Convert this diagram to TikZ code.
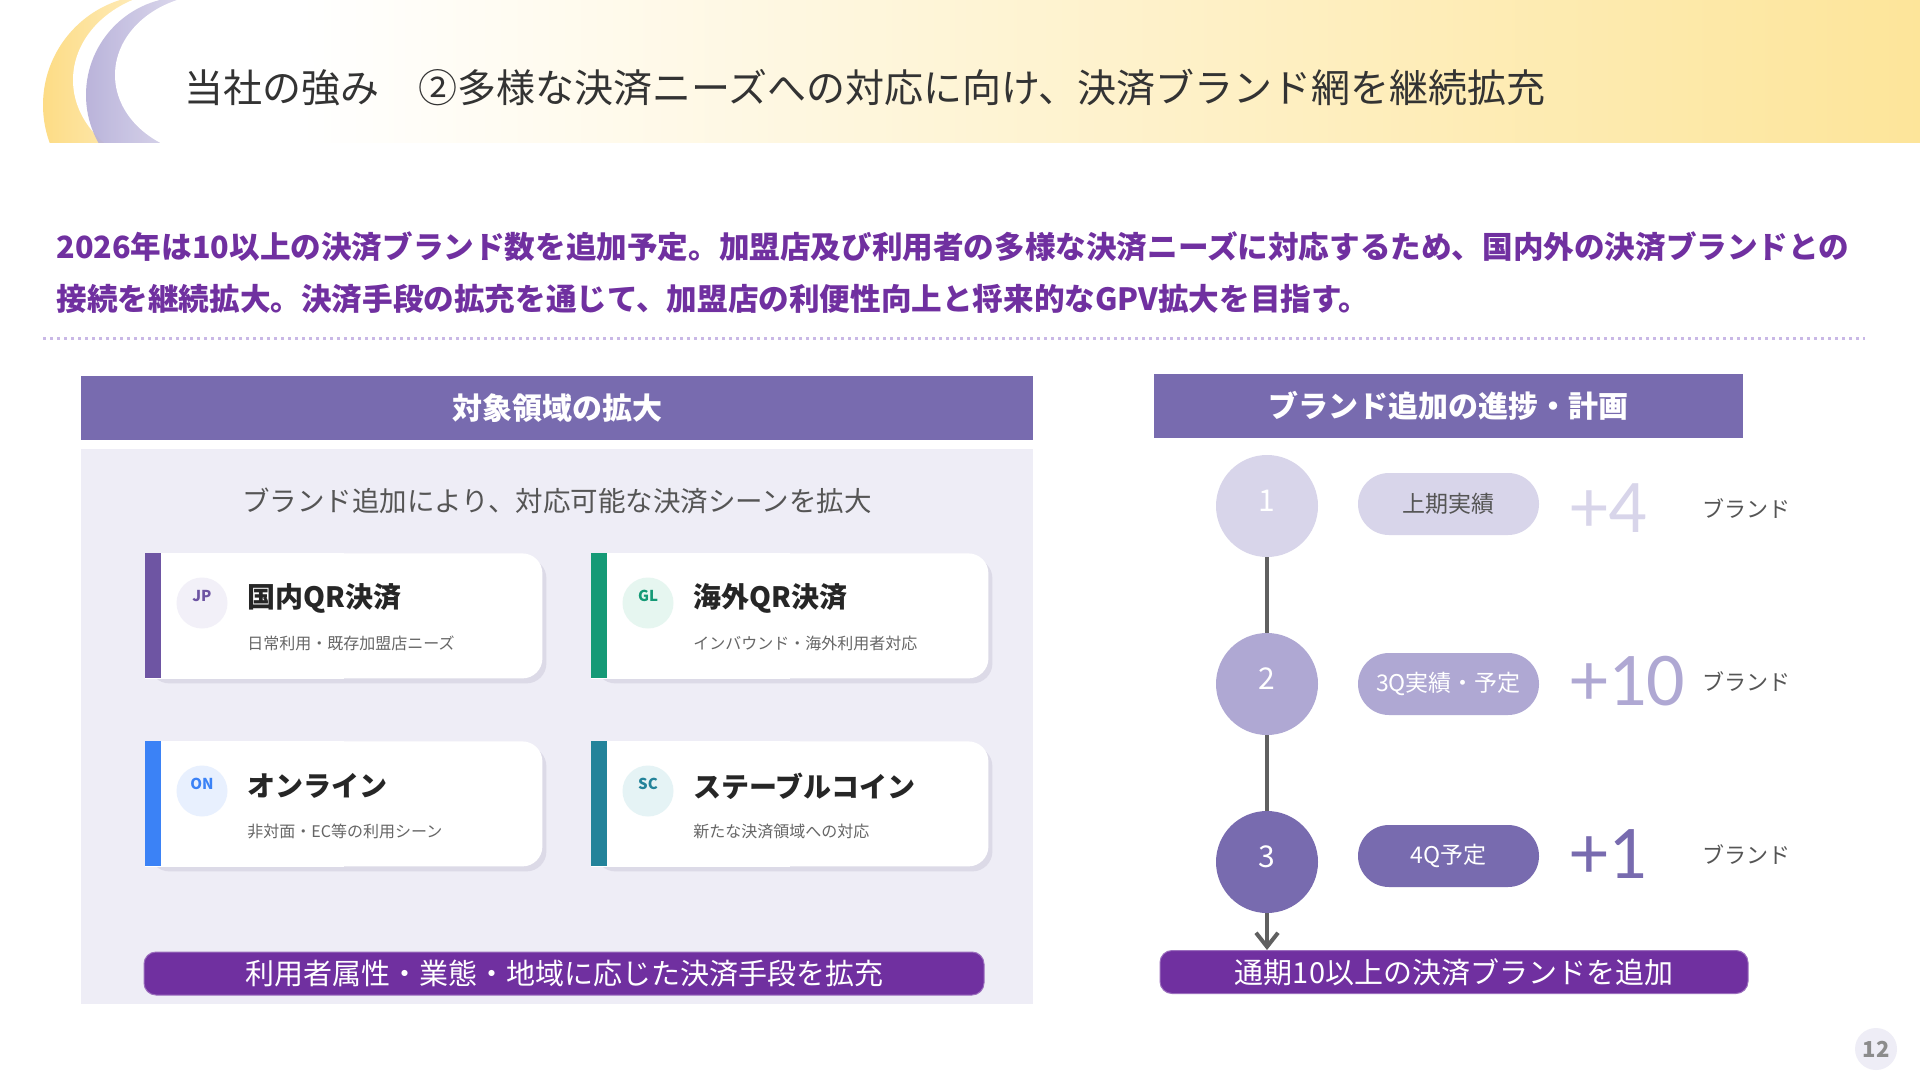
\documentclass[tikz,border=0pt]{standalone}
\usepackage{fontspec}
\setmainfont{Noto Sans CJK JP}
\newfontfamily\numfont{Carlito}
\usetikzlibrary{arrows.meta,shadows}

\definecolor{headpurple}{HTML}{786BAF}
\definecolor{deeppurple}{HTML}{7030A0}
\definecolor{panelbg}{HTML}{EEEDF6}
\definecolor{dotline}{HTML}{C9B8E6}
\definecolor{stepa}{HTML}{D8D5EA}
\definecolor{stepb}{HTML}{AFA8D3}
\definecolor{stepc}{HTML}{786BAF}
\definecolor{linkgray}{HTML}{606060}
\definecolor{textgray}{HTML}{555555}
\definecolor{titlegray}{HTML}{333333}
\definecolor{cardshade}{HTML}{DCDAE7}
\definecolor{barcream}{HTML}{FDE59A}
\definecolor{moonyellow}{HTML}{FDDC85}
\definecolor{moonlav}{HTML}{B3ACD7}
\definecolor{colJP}{HTML}{6E55A3}
\definecolor{bgJP}{HTML}{F2F0F8}
\definecolor{colGL}{HTML}{159A76}
\definecolor{bgGL}{HTML}{E6F6F0}
\definecolor{colON}{HTML}{3B82F6}
\definecolor{bgON}{HTML}{E8F0FE}
\definecolor{colSC}{HTML}{23839A}
\definecolor{bgSC}{HTML}{E5F3F5}

\begin{document}
\begin{tikzpicture}[x=0.5pt, y=-0.5pt, >={Straight Barb[length=7pt,width=11pt]},
  every node/.style={inner sep=0pt},
  header/.style={fill=headpurple, text=white, minimum height=32pt,
    font=\fontsize{15}{18}\selectfont\bfseries},
  card/.style={fill=white, rounded corners=10pt, anchor=north west,
    minimum width=198.5pt, minimum height=62.5pt,
    drop shadow={shadow xshift=2pt, shadow yshift=-2.5pt, fill=cardshade, opacity=1}},
  badge/.style={circle, minimum size=25.5pt},
  cardtitle/.style={anchor=west, text=black!85, font=\fontsize{14}{17}\selectfont\bfseries},
  cardsub/.style={anchor=west, text=black!60, font=\fontsize{8}{10}\selectfont},
  stepdot/.style={circle, minimum size=51pt, text=white, text depth=5pt,
    font=\fontsize{15}{18}\selectfont},
  pill/.style={rounded corners=15.5pt, minimum width=90.5pt, minimum height=31pt,
    font=\fontsize{11.5}{14}\selectfont},
  bignum/.style={anchor=west, font=\numfont\fontsize{38}{40}\selectfont},
  unit/.style={anchor=west, text=textgray, font=\fontsize{11}{13}\selectfont},
  goalbar/.style={fill=deeppurple, draw=deeppurple!70, line width=0.5pt, rounded corners=6pt,
    minimum height=21.5pt, text=white, font=\fontsize{14.5}{17}\selectfont},
  summary/.style={anchor=west, text=deeppurple, font=\fontsize{15.3}{18}\selectfont\bfseries},
  link/.style={draw=linkgray, line width=2pt}]

\useasboundingbox (0,0) rectangle (1920,1080);
\fill [white] (0,0) rectangle (1920,1080);

% title band with the two moons
\begin{scope}
  \clip (0,0) rectangle (1920,143);
  \shade [left color=white, right color=barcream] (300,0) rectangle (1920,143);
  \shade [left color=moonyellow, right color=white] (153,105) circle (55pt);
  \fill [white] (183,80) ellipse (55pt and 45pt);
  \shade [left color=moonlav, right color=white, opacity=0.9] (184,95) circle (49pt);
  \fill [white] (215,75) ellipse (50pt and 40.5pt);
\end{scope}

\node [anchor=west, text=titlegray, font=\fontsize{19.5}{23}\selectfont] (title) at (184,88)
  {当社の強み　②多様な決済ニーズへの対応に向け、決済ブランド網を継続拡充};

\node [summary] (summary-1) at (56,247)
  {2026年は10以上の決済ブランド数を追加予定。加盟店及び利用者の多様な決済ニーズに対応するため、国内外の決済ブランドとの};
\node [summary] (summary-2) at (56,299)
  {接続を継続拡大。決済手段の拡充を通じて、加盟店の利便性向上と将来的なGPV拡大を目指す。};

\coordinate (rule-l) at (43,339);
\coordinate (rule-r) at (1865,339);
\draw [dotline, line width=1.5pt, dash pattern=on 1.5pt off 2pt] (rule-l) -- (rule-r);

% left: target areas
\node [header, minimum width=476pt] (head-left) at (557,408) {対象領域の拡大};
\node [fill=panelbg, anchor=north west, minimum width=476pt, minimum height=277.5pt]
  (panel) at (81,449) {};
\node [text=textgray, font=\fontsize{13.75}{16}\selectfont] (panel-lead) at (557,501)
  {ブランド追加により、対応可能な決済シーンを拡大};

\foreach \x/\y/\m/\t/\s [count=\i] in {
    145/553/JP/国内QR決済/日常利用・既存加盟店ニーズ,
    591/553/GL/海外QR決済/インバウンド・海外利用者対応,
    145/741/ON/オンライン/非対面・EC等の利用シーン,
    591/741/SC/ステーブルコイン/新たな決済領域への対応} {
  \node [card] (card-\i) at (\x,\y) {};
  \fill [white] (card-\i.north west) rectangle (card-\i.south);
  \fill [col\m] (card-\i.north west) rectangle ++(16,125);
  \node [badge, fill=bg\m] (badge-\i) at ([shift={(57,50)}]card-\i.north west) {};
  \node [text=col\m, font=\fontsize{7.5}{9}\selectfont\bfseries] at ([shift={(0,-7)}]badge-\i) {\m};
  \node [cardtitle] (title-\i) at ([shift={(102,45)}]card-\i.north west) {\t};
  \node [cardsub] (sub-\i) at ([shift={(102,90)}]card-\i.north west) {\s};
}

\node [goalbar, minimum width=420pt] (goal-left) at (564,973.5)
  {利用者属性・業態・地域に応じた決済手段を拡充};

% right: progress of brand additions
\node [header, minimum width=294.5pt] (head-right) at (1448.5,406) {ブランド追加の進捗・計画};

\foreach \l/\c/\y [count=\i] in {1/stepa/506, 2/stepb/684, 3/stepc/862}
  \node [stepdot, fill=\c] (step-\i) at (1267,\y) {\l};

\foreach \t/\c/\f/\y [count=\i] in {上期実績/stepa/textgray/504, 3Q実績・予定/stepb/white/684, 4Q予定/stepc/white/856}
  \node [pill, fill=\c, text=\f] (pill-\i) at (1448.5,\y) {\t};

\foreach \n/\c/\y [count=\i] in {+4/stepa/508, +10/stepb/681, +1/stepc/854}
  \node [bignum, text=\c] (count-\i) at (1570,\y) {\n};

\foreach \y [count=\i] in {509,682,855}
  \node [unit] (unit-\i) at (1702,\y) {ブランド};

\node [goalbar, minimum width=294pt] (goal-right) at (1454,972)
  {通期10以上の決済ブランドを追加};

\draw [link] (step-1) -- (step-2);
\draw [link] (step-2) -- (step-3);
\draw [link, ->] (step-3) -- (step-3 |- goal-right.north);

\node [circle, fill=panelbg, minimum size=21pt, text=black!45,
  font=\fontsize{11}{13}\selectfont\bfseries] (page) at (1876,1049) {12};

\end{tikzpicture}
\end{document}
